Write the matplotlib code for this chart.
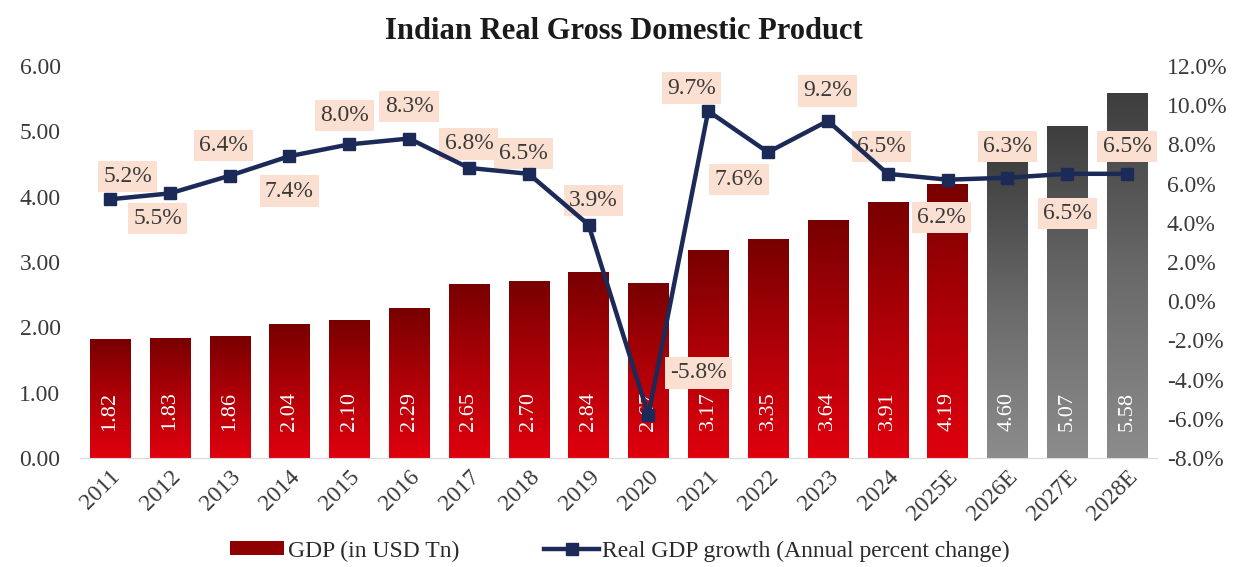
import numpy as np
import matplotlib.pyplot as plt
from matplotlib.patches import Patch
from matplotlib.lines import Line2D
from matplotlib.colors import LinearSegmentedColormap

years = ["2011", "2012", "2013", "2014", "2015", "2016", "2017", "2018", "2019",
         "2020", "2021", "2022", "2023", "2024", "2025E", "2026E", "2027E", "2028E"]
gdp_usd_tn = [1.82, 1.83, 1.86, 2.04, 2.10, 2.29, 2.65, 2.70, 2.84,
              2.67, 3.17, 3.35, 3.64, 3.91, 4.19, 4.60, 5.07, 5.58]
growth_pct = [5.2, 5.5, 6.4, 7.4, 8.0, 8.3, 6.8, 6.5, 3.9,
              -5.8, 9.7, 7.6, 9.2, 6.5, 6.2, 6.3, 6.5, 6.5]
is_estimate = [False] * 15 + [True] * 3

# label offsets (pixels) from each growth marker
label_offsets = [(18, 23), (-12, -25), (-6, 30), (0, -35), (-5, 29), (0, 32),
                 (0, 24), (-5, 20), (5, 24), (50, 42), (-17, 23), (-29, -27),
                 (0, 30), (-6, 27), (-6, -38), (0, 31), (0, -40), (0, 27)]

plt.rcParams['font.family'] = ['Liberation Serif', 'DejaVu Serif']

DPI = 100
PT = 72 / DPI
fig = plt.figure(figsize=(12.4, 5.67), dpi=DPI)
ax = fig.add_axes([0.0645, 0.1922, 0.8685, 0.6914])
ax2 = ax.twinx()

red_cmap = LinearSegmentedColormap.from_list("redgrad", ["#E0000E", "#B00008", "#780000"])
gray_cmap = LinearSegmentedColormap.from_list("graygrad", ["#8C8C8C", "#6A6A6A", "#3E3E3E"])
grad = np.linspace(0, 1, 256).reshape(-1, 1)

x = np.arange(len(years))
width = 0.67
bars = ax.bar(x, gdp_usd_tn, width=width, color="none", edgecolor="none", zorder=2)
for rect, est in zip(bars, is_estimate):
    x0, h = rect.get_x(), rect.get_height()
    ax.imshow(grad, extent=[x0, x0 + width, 0, h], origin="lower", aspect="auto",
              cmap=gray_cmap if est else red_cmap, zorder=2, interpolation="bicubic")

for xi, v in zip(x, gdp_usd_tn):
    ax.annotate(f"{v:.2f}", (xi, 0), xytext=(0, 47 * PT), textcoords="offset points",
                rotation=90, ha="center", va="center", color="white", fontsize=16, zorder=3)

ax.set_xlim(-0.5, len(years) - 0.5)
ax.set_ylim(0, 6)
ax.set_yticks(np.arange(0, 6.01, 1))
ax.set_yticklabels([f"{v:.2f}" for v in np.arange(0, 6.01, 1)])
ax.set_xticks(x)
ax.set_xticklabels(years, rotation=45, ha="right", rotation_mode="anchor")
ax.tick_params(axis="both", length=0, labelsize=17, labelcolor="#3A3A3A")
ax.tick_params(axis="y", pad=14)
ax.tick_params(axis="x", pad=6)
for s in ["top", "left", "right"]:
    ax.spines[s].set_visible(False)
ax.spines["bottom"].set_color("#D9D9D9")

ax2.set_ylim(-8, 12)
ax2.set_yticks(np.arange(-8, 12.01, 2))
ax2.set_yticklabels([f"{v:.1f}%" for v in np.arange(-8, 12.01, 2)])
ax2.tick_params(axis="y", length=0, labelsize=17, labelcolor="#3A3A3A", pad=7)
for s in ax2.spines.values():
    s.set_visible(False)

ax2.plot(x, growth_pct, color="#1B2A57", lw=3.2, marker="s", markersize=9,
         markerfacecolor="#1B2A57", markeredgecolor="#1B2A57", zorder=4)

for xi, g, (dx, dy) in zip(x, growth_pct, label_offsets):
    ax2.annotate(f"{g:.1f}%", (xi, g), xytext=(dx * PT, dy * PT),
                 textcoords="offset points", ha="center", va="center", fontsize=17,
                 color="#3A3A3A", zorder=3,
                 bbox=dict(boxstyle="square,pad=0.22", fc="#FBE0D2", ec="none"))

fig.text(0.503, 0.944, "Indian Real Gross Domestic Product", ha="center", va="center",
         fontsize=22, fontweight="bold", color="#1A1A1A")

handles = [Patch(facecolor="#8E0000", edgecolor="none"),
           Line2D([0], [0], color="#1B2A57", lw=3.2, marker="s", markersize=9)]
fig.legend(handles, ["GDP (in USD Tn)", "Real GDP growth (Annual percent change)"],
           loc="center", bbox_to_anchor=(0.5, 0.028), ncol=2, frameon=False,
           fontsize=17, handlelength=2.3, handleheight=0.55, columnspacing=3.6,
           handletextpad=0.15, labelcolor="#2A2A2A")

fig.savefig("out.png", dpi=DPI)
